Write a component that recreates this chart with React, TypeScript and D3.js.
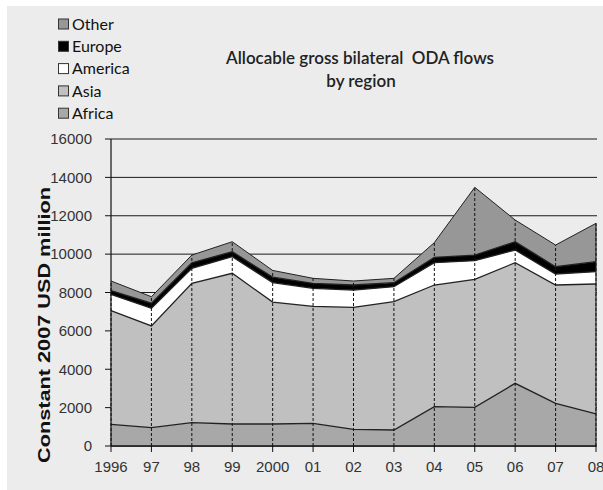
import React from "react";
import * as d3 from "d3";

// Years on the x axis and their printed labels
const years = [1996, 1997, 1998, 1999, 2000, 2001, 2002, 2003, 2004, 2005, 2006, 2007, 2008];
const yearLabels = ["1996", "97", "98", "99", "2000", "01", "02", "03", "04", "05", "06", "07", "08"];

// Allocable gross bilateral ODA by region, constant 2007 USD million
const africa = [1130, 955, 1215, 1146, 1146, 1180, 868, 834, 2050, 2015, 3265, 2225, 1670];
const asia = [5920, 5305, 7265, 7854, 6354, 6100, 6360, 6686, 6340, 6671, 6287, 6165, 6772];
const america = [850, 915, 780, 864, 1020, 938, 901, 781, 1162, 970, 661, 573, 641];
const europe = [200, 265, 290, 261, 280, 260, 261, 209, 281, 297, 433, 381, 521];
const other = [500, 340, 400, 521, 350, 260, 208, 228, 767, 3528, 1131, 1130, 2001];

const yTicks = [0, 2000, 4000, 6000, 8000, 10000, 12000, 14000, 16000];

const seriesKeys = ["Africa", "Asia", "America", "Europe", "Other"];
const seriesColors: Record<string, string> = {
  Africa: "#a8a8a8",
  Asia: "#c0c0c0",
  America: "#ffffff",
  Europe: "#000000",
  Other: "#979797",
};
const legendOrder = ["Other", "Europe", "America", "Asia", "Africa"];

const W = 603;
const H = 490;
const plot = { left: 111, right: 596, top: 139, bottom: 446 };

export default function App() {
  const rows = years.map((yr, i) => ({
    year: yr,
    Africa: africa[i],
    Asia: asia[i],
    America: america[i],
    Europe: europe[i],
    Other: other[i],
  }));

  const x = d3.scaleLinear().domain([years[0], years[years.length - 1]]).range([plot.left, plot.right]);
  const y = d3.scaleLinear().domain([0, 16000]).range([plot.bottom, plot.top]);

  const stacked = d3.stack<any>().keys(seriesKeys)(rows);
  const area = d3
    .area<any>()
    .x((d) => x(d.data.year))
    .y0((d) => y(d[0]))
    .y1((d) => y(d[1]));
  const topLine = d3
    .line<any>()
    .x((d) => x(d.data.year))
    .y((d) => y(d[1]));

  const totals = rows.map((r) => seriesKeys.reduce((s, k) => s + (r as any)[k], 0));
  const axisFont = "'Liberation Sans', Arial, sans-serif";
  const legendFont = "Lato, 'Open Sans', sans-serif";

  return (
    <svg
      width={W}
      height={H}
      style={{ position: "absolute", left: 0, top: 0 }}
      xmlns="http://www.w3.org/2000/svg"
    >
      <rect x={0} y={0} width={W} height={H} fill="#ffffff" />
      <rect x={7} y={6} width={W - 7} height={H - 6} fill="#ececec" />

      {/* horizontal gridlines */}
      {yTicks.map((t) => (
        <line
          key={"g" + t}
          x1={plot.left}
          x2={plot.right + 1}
          y1={y(t)}
          y2={y(t)}
          stroke="#1a1a1a"
          strokeWidth={1}
        />
      ))}

      {/* stacked areas */}
      {stacked.map((s) => (
        <path key={s.key} d={area(s) || ""} fill={seriesColors[s.key]} />
      ))}
      {stacked.map((s) => (
        <path
          key={"l" + s.key}
          d={topLine(s) || ""}
          fill="none"
          stroke="#222"
          strokeWidth={s.key === "Other" ? 1 : 1.3}
        />
      ))}

      {/* drop lines */}
      {years.map((yr, i) => (
        <line
          key={"d" + yr}
          x1={x(yr)}
          x2={x(yr)}
          y1={plot.bottom}
          y2={y(totals[i])}
          stroke="#111"
          strokeWidth={1}
          strokeDasharray="3,2"
        />
      ))}
      <line x1={plot.right} x2={plot.right} y1={plot.bottom} y2={y(totals[totals.length - 1])} stroke="#222" strokeWidth={1.2} />

      {/* y axis */}
      <line x1={plot.left} x2={plot.left} y1={plot.top} y2={plot.bottom} stroke="#111" strokeWidth={1.2} />
      {yTicks.map((t) => (
        <g key={"yt" + t}>
          <line x1={plot.left - 6} x2={plot.left} y1={y(t)} y2={y(t)} stroke="#111" />
          <text
            x={plot.left - 19}
            y={y(t)}
            dy="0.35em"
            textAnchor="end"
            fontFamily={axisFont}
            fontSize={15}
            fill="#333"
          >
            {t}
          </text>
        </g>
      ))}

      {/* x axis */}
      <line x1={plot.left} x2={plot.right} y1={plot.bottom} y2={plot.bottom} stroke="#111" strokeWidth={1.5} />
      {years.map((yr, i) => (
        <g key={"xt" + yr}>
          <line x1={x(yr)} x2={x(yr)} y1={plot.bottom} y2={plot.bottom + 6} stroke="#111" />
          <text
            x={x(yr)}
            y={plot.bottom + 26}
            textAnchor="middle"
            fontFamily={axisFont}
            fontSize={15}
            fill="#333"
          >
            {yearLabels[i]}
          </text>
        </g>
      ))}

      {/* y axis title */}
      <text
        transform={`translate(50,${325}) rotate(-90)`}
        textAnchor="middle"
        fontFamily={axisFont}
        fontWeight="bold"
        fontSize={17}
        textLength={276}
        lengthAdjust="spacingAndGlyphs"
        fill="#111"
      >
        Constant 2007 USD million
      </text>

      {/* chart title */}
      <text
        x={360}
        y={64}
        textAnchor="middle"
        fontFamily={legendFont}
        fontSize={17}
        fontWeight={600}
        fill="#222"
        style={{ whiteSpace: "pre" }}
      >
        <tspan x={360}>Allocable gross bilateral  ODA flows</tspan>
        <tspan x={361} dy={23}>by region</tspan>
      </text>

      {/* legend */}
      {legendOrder.map((k, i) => {
        const cy = 24 + i * 22.3;
        return (
          <g key={"lg" + k}>
            <rect x={58.5} y={cy - 5} width={10} height={10} fill={seriesColors[k]} stroke="#333" strokeWidth={1} />
            <text x={72} y={cy} dy="0.36em" fontFamily={legendFont} fontSize={16} fill="#111">
              {k}
            </text>
          </g>
        );
      })}
    </svg>
  );
}
